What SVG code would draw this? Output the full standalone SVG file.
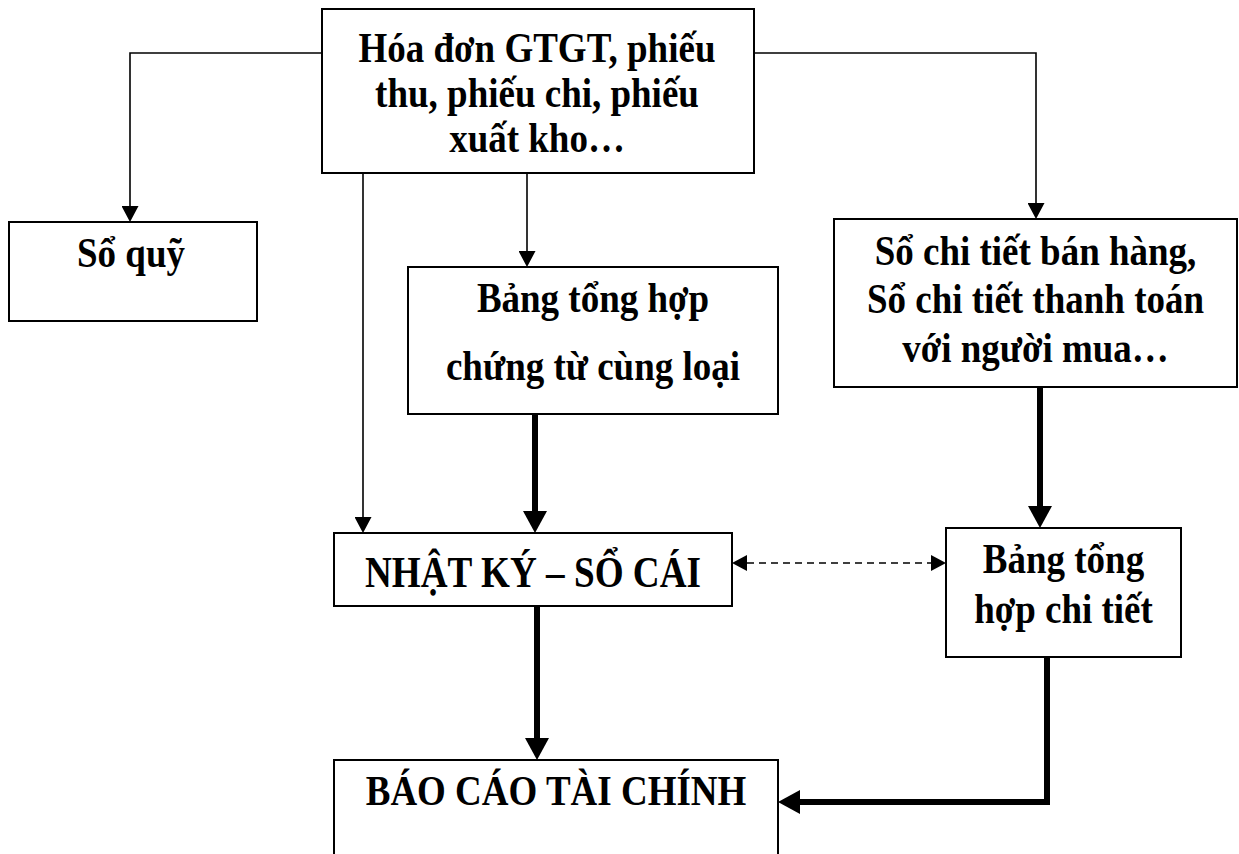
<svg xmlns="http://www.w3.org/2000/svg" width="1239" height="854" viewBox="0 0 1239 854">
  <style>
    .box { fill: #fff; stroke: #000; stroke-width: 2; }
    .lbl { font-family: "Liberation Serif", "Times New Roman", serif; font-weight: bold; font-size: 37px; fill: #000; text-anchor: middle; }
    .thin { fill: none; stroke: #000; stroke-width: 1.6; }
    .thick { fill: none; stroke: #000; stroke-width: 6; }
    .dash { fill: none; stroke: #000; stroke-width: 1.6; stroke-dasharray: 7 5; }
  </style>
  <defs>
    <marker id="arrThin" markerUnits="userSpaceOnUse" viewBox="0 0 16 17" refX="0" refY="8.5" markerWidth="16" markerHeight="17" orient="auto">
      <path d="M0,0 L16,8.5 L0,17 z" fill="#000"/>
    </marker>
    <marker id="arrThick" markerUnits="userSpaceOnUse" viewBox="0 0 22 24" refX="0" refY="12" markerWidth="22" markerHeight="24" orient="auto">
      <path d="M0,0 L22,12 L0,24 z" fill="#000"/>
    </marker>
    <marker id="arrDash" markerUnits="userSpaceOnUse" viewBox="0 0 15 16" refX="0" refY="8" markerWidth="15" markerHeight="16" orient="auto-start-reverse">
      <path d="M0,0 L15,8 L0,16 z" fill="#000"/>
    </marker>
  </defs>

  <!-- connectors -->
  <g id="connectors">
    <path class="thin" d="M322,53 H130 V206" marker-end="url(#arrThin)"/>
    <path class="thin" d="M754,53 H1036 V203" marker-end="url(#arrThin)"/>
    <path class="thin" d="M363,173 V517" marker-end="url(#arrThin)"/>
    <path class="thin" d="M527,173 V251" marker-end="url(#arrThin)"/>
    <path class="thick" d="M535,414 V511" marker-end="url(#arrThick)"/>
    <path class="thick" d="M1040,387 V506" marker-end="url(#arrThick)"/>
    <path class="thick" d="M537,606 V738" marker-end="url(#arrThick)"/>
    <path class="thick" d="M1047,657 V802 H800" marker-end="url(#arrThick)"/>
    <path class="dash" d="M747,563 H931" marker-start="url(#arrDash)" marker-end="url(#arrDash)"/>
  </g>

  <!-- labels are drawn slightly taller than the font's natural proportions -->
  <g id="chung-tu">
    <rect class="box" x="322" y="9" width="432" height="164"/>
    <text class="lbl" transform="translate(537 62) scale(1 1.15)">Hóa đơn GTGT, phiếu</text>
    <text class="lbl" transform="translate(537 107) scale(1 1.15)">thu, phiếu chi, phiếu</text>
    <text class="lbl" transform="translate(537 152) scale(1 1.15)">xuất kho…</text>
  </g>

  <g id="so-quy">
    <rect class="box" x="9" y="222" width="248" height="99"/>
    <text class="lbl" transform="translate(131 267) scale(1 1.15)">Sổ quỹ</text>
  </g>

  <g id="bang-tong-hop-chung-tu">
    <rect class="box" x="408" y="267" width="370" height="147"/>
    <text class="lbl" transform="translate(593 312) scale(1 1.15)">Bảng tổng hợp</text>
    <text class="lbl" transform="translate(593 380) scale(1 1.15)">chứng từ cùng loại</text>
  </g>

  <g id="so-chi-tiet">
    <rect class="box" x="834" y="219" width="403" height="168"/>
    <text class="lbl" transform="translate(1035.5 265) scale(1 1.15)">Sổ chi tiết bán hàng,</text>
    <text class="lbl" transform="translate(1035.5 313) scale(1 1.15)">Sổ chi tiết thanh toán</text>
    <text class="lbl" transform="translate(1035.5 362) scale(1 1.15)">với người mua…</text>
  </g>

  <g id="nhat-ky-so-cai">
    <rect class="box" x="334" y="533" width="398" height="73"/>
    <text class="lbl" transform="translate(533 587) scale(1 1.18)" textLength="336" lengthAdjust="spacingAndGlyphs">NHẬT KÝ – SỔ CÁI</text>
  </g>

  <g id="bang-tong-hop-chi-tiet">
    <rect class="box" x="946" y="528" width="235" height="129"/>
    <text class="lbl" transform="translate(1063.5 573) scale(1 1.15)">Bảng tổng</text>
    <text class="lbl" transform="translate(1063.5 623) scale(1 1.15)">hợp chi tiết</text>
  </g>

  <g id="bao-cao-tai-chinh">
    <rect class="box" x="334" y="760" width="444" height="110"/>
    <text class="lbl" transform="translate(556 805) scale(1 1.15)">BÁO CÁO TÀI CHÍNH</text>
  </g>
</svg>
